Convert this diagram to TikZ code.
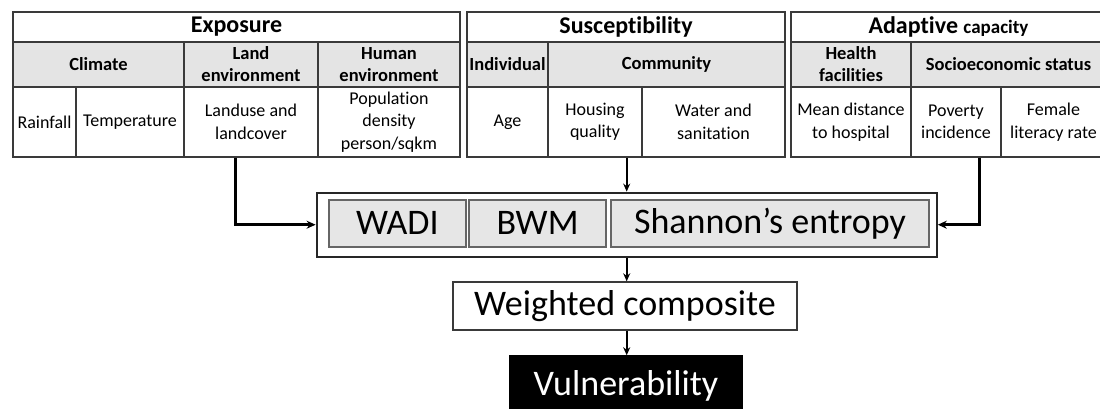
\documentclass[tikz,border=0pt]{standalone}
\usepackage{fontspec}
\setmainfont{Carlito}[Ligatures=NoCommon]
\usetikzlibrary{arrows.meta}
\definecolor{hdrgray}{HTML}{E4E4E4}
\definecolor{boxgray}{HTML}{E6E6E6}
\definecolor{linegray}{HTML}{3A3A3A}
\tikzset{
  cellbox/.style={draw=linegray, line width=1.5pt, inner sep=0pt, align=center},
  titlecell/.style={cellbox, fill=white, font=\fontsize{24}{27}\selectfont\bfseries},
  hdrcell/.style={cellbox, fill=hdrgray, font=\fontsize{18.5}{22}\selectfont\bfseries},
  indcell/.style={cellbox, fill=white, font=\fontsize{18}{22.5}\selectfont},
  method/.style={draw=black!60, line width=1.8pt, fill=boxgray, inner sep=0pt, font=\fontsize{36}{40}\selectfont},
  outerbox/.style={draw=black!85, line width=2.2pt, fill=white, inner sep=0pt},
  arr/.style={draw=black, line width=2.6pt, -{Stealth[length=9pt,width=8pt]}},
  arrthin/.style={draw=black, line width=2pt, -{Stealth[length=8pt,width=7pt]}}
}
\newcommand{\mycell}[7]{%
  \node[#6, minimum width={(#4-#2)*1pt}, minimum height={(#5-#3)*1pt}] (#1) at ({(#2+#4)/2},{(#3+#5)/2}) {#7};}
\begin{document}
\begin{tikzpicture}[x=1pt,y=-1pt]
\useasboundingbox (0,0) rectangle (1100,408);
% Exposure
\mycell{expo}{13}{12}{460}{42}{titlecell}{Exposure}
\mycell{climate}{13}{42}{184}{87}{hdrcell}{Climate}
\mycell{landenv}{184}{42}{318}{87}{hdrcell}{Land\\environment}
\mycell{humenv}{318}{42}{460}{87}{hdrcell}{Human\\environment}
\mycell{rain}{13}{87}{76}{157}{indcell}{Rainfall}
\mycell{temp}{76}{87}{184}{157}{indcell}{Temperature}
\mycell{landuse}{184}{87}{318}{157}{indcell}{Landuse and\\landcover}
\mycell{popd}{318}{87}{460}{157}{indcell}{Population\\density\\person/sqkm}
% Susceptibility
\mycell{susc}{467}{12}{785}{42}{titlecell}{Susceptibility}
\mycell{indiv}{467}{42}{548}{87}{hdrcell}{Individual}
\mycell{comm}{548}{42}{785}{87}{hdrcell}{Community}
\mycell{age}{467}{87}{548}{157}{indcell}{Age}
\mycell{housing}{548}{87}{642}{157}{indcell}{Housing\\quality}
\mycell{water}{642}{87}{785}{157}{indcell}{Water and\\sanitation}
% Adaptive capacity
\mycell{adap}{791}{12}{1106}{42}{titlecell}{Adaptive {\fontsize{19}{22}\selectfont capacity}}
\mycell{health}{791}{42}{911}{87}{hdrcell}{Health\\facilities}
\mycell{socio}{911}{42}{1106}{87}{hdrcell}{Socioeconomic status}
\mycell{meandist}{791}{87}{911}{157}{indcell}{Mean distance\\to hospital}
\mycell{poverty}{911}{87}{1001}{157}{indcell}{Poverty\\incidence}
\mycell{female}{1001}{87}{1106}{157}{indcell}{Female\\literacy rate}
% Methods
\mycell{methods}{316.7}{192.7}{936.7}{256.7}{outerbox}{}
\mycell{wadi}{329}{200}{465.7}{246.7}{method}{WADI}
\mycell{bwm}{469.3}{200}{605.7}{246.7}{method}{BWM}
\mycell{shannon}{610.7}{200}{929.3}{246.7}{method}{Shannon’s entropy}
% Results
\mycell{weighted}{453}{282}{797}{330}{cellbox,line width=1.4pt,font=\fontsize{36}{40}\selectfont}{Weighted composite}
\mycell{vuln}{510}{356}{742}{416}{cellbox,draw=black,fill=black,text=white,font=\fontsize{36}{40}\selectfont}{Vulnerability}
% Connectors
\draw[arr] ([xshift=-15.3pt]landuse.south) |- (methods.west);
\draw[arr] ([xshift=23.3pt]poverty.south) |- (methods.east);
\draw[arrthin] (methods.north |- housing.south) -- (methods.north);
\draw[arrthin] (methods.south) -- (methods.south |- weighted.north);
\draw[arrthin] (weighted.south -| methods.south) -- (vuln.north -| methods.south);
\end{tikzpicture}
\end{document}
